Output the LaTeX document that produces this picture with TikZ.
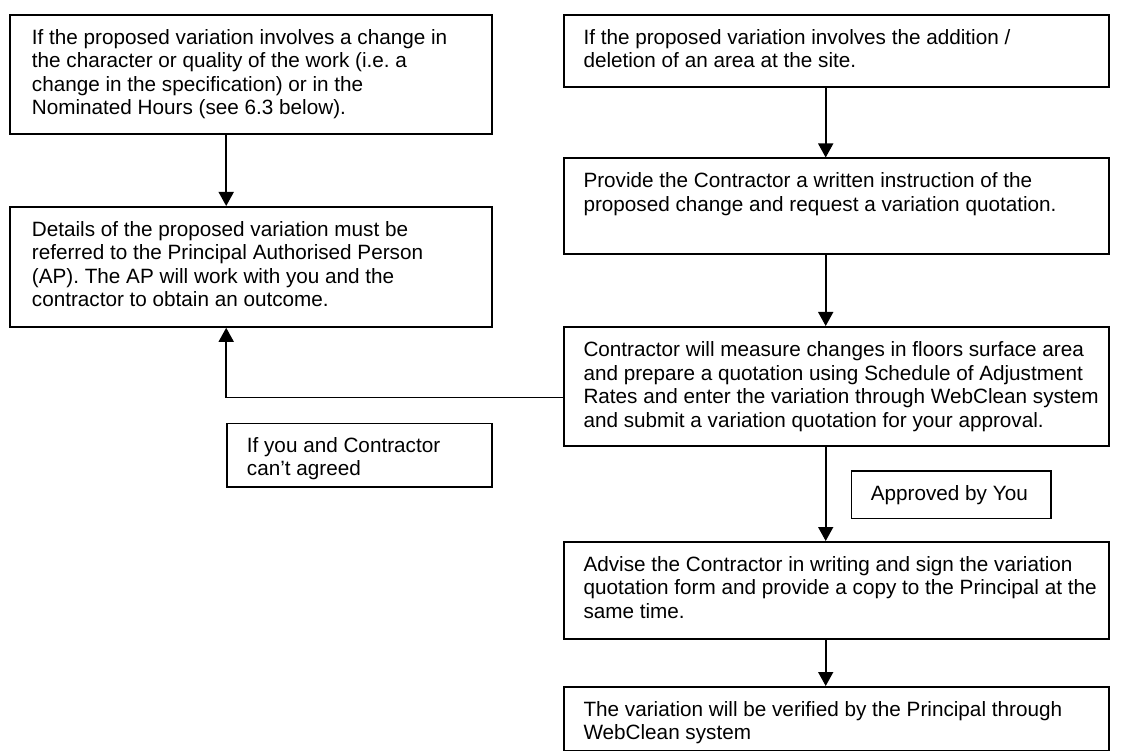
\documentclass[tikz,border=0pt]{standalone}
\usepackage{fontspec}
\setmainfont{Liberation Sans}
\usetikzlibrary{arrows.meta}
\frenchspacing
\begin{document}
\begin{tikzpicture}[x=1pt,y=-1pt,
  boxshape/.style={draw, line width=1.8pt, inner sep=0pt, anchor=north west},
  txt/.style={anchor=north west, align=left, inner sep=0pt, font=\fontsize{20.7}{23.5}\selectfont},
  conn/.style={line width=1.6pt, -{Triangle[width=15pt,length=14pt]}}]
\useasboundingbox (0,0) rectangle (1138,751);
% boxes
\node[boxshape, minimum width=481.7pt, minimum height=119.5pt] (b1) at (9.3,14) {};
\node[boxshape, minimum width=481.7pt, minimum height=120pt] (b2) at (9.3,206) {};
\node[boxshape, minimum width=545pt, minimum height=72pt] (b3) at (563,14) {};
\node[boxshape, minimum width=545pt, minimum height=95.5pt] (b4) at (563,157.5) {};
\node[boxshape, minimum width=545pt, minimum height=119pt] (b5) at (563,326) {};
\node[boxshape, minimum width=265.3pt, minimum height=63.5pt] (b6) at (225.7,422.5) {};
\node[boxshape, minimum width=199.5pt, minimum height=47.5pt] (b7) at (850.5,470) {};
\node[boxshape, minimum width=545pt, minimum height=97pt] (b8) at (563,541) {};
\node[boxshape, minimum width=545pt, minimum height=64pt] (b9) at (563,686) {};
% texts (north west = first baseline minus ascender)
\node[txt] (t1) at (31.7,29) {If the proposed variation involves a change in\\the character or quality of the work (i.e.\ a\\change in the specification) or in the\\Nominated Hours (see 6.3 below).};
\node[txt] (t2) at (31.7,221) {Details of the proposed variation must be\\referred to the Principal Authorised Person\\(AP). The AP will work with you and the\\contractor to obtain an outcome.};
\node[txt] (t3) at (583.3,29) {If the proposed variation involves the addition /\\deletion of an area at the site.};
\node[txt] (t4) at (583.3,172.5) {Provide the Contractor a written instruction of the\\proposed change and request a variation quotation.};
\node[txt] (t5) at (583.3,341.5) {Contractor will measure changes in floors surface area\\and prepare a quotation using Schedule of Adjustment\\Rates and enter the variation through WebClean system\\and submit a variation quotation for your approval.};
\node[txt] (t6) at (246.7,437) {If you and Contractor\\can’t agreed};
\node[txt] (t7) at (870.7,485) {Approved by You};
\node[txt] (t8) at (583.3,556) {Advise the Contractor in writing and sign the variation\\quotation form and provide a copy to the Principal at the\\same time.};
\node[txt] (t9) at (583.3,701) {The variation will be verified by the Principal through\\WebClean system};
% connectors
\coordinate (lx) at (226.2,0);
\coordinate (rx) at (825.7,0);
\coordinate (c1) at (563,397.3);
\coordinate (c2) at (226.2,397.3);
\draw[conn] (b1.south -| lx) -- (b2.north -| lx);
\draw[conn] (b3.south -| rx) -- (b4.north -| rx);
\draw[conn] (b4.south -| rx) -- (b5.north -| rx);
\draw[conn] (b5.south -| rx) -- (b8.north -| rx);
\draw[conn] (b8.south -| rx) -- (b9.north -| rx);
\draw[conn] (c1) -- (c2) -- (b2.south -| c2);
\end{tikzpicture}
\end{document}
